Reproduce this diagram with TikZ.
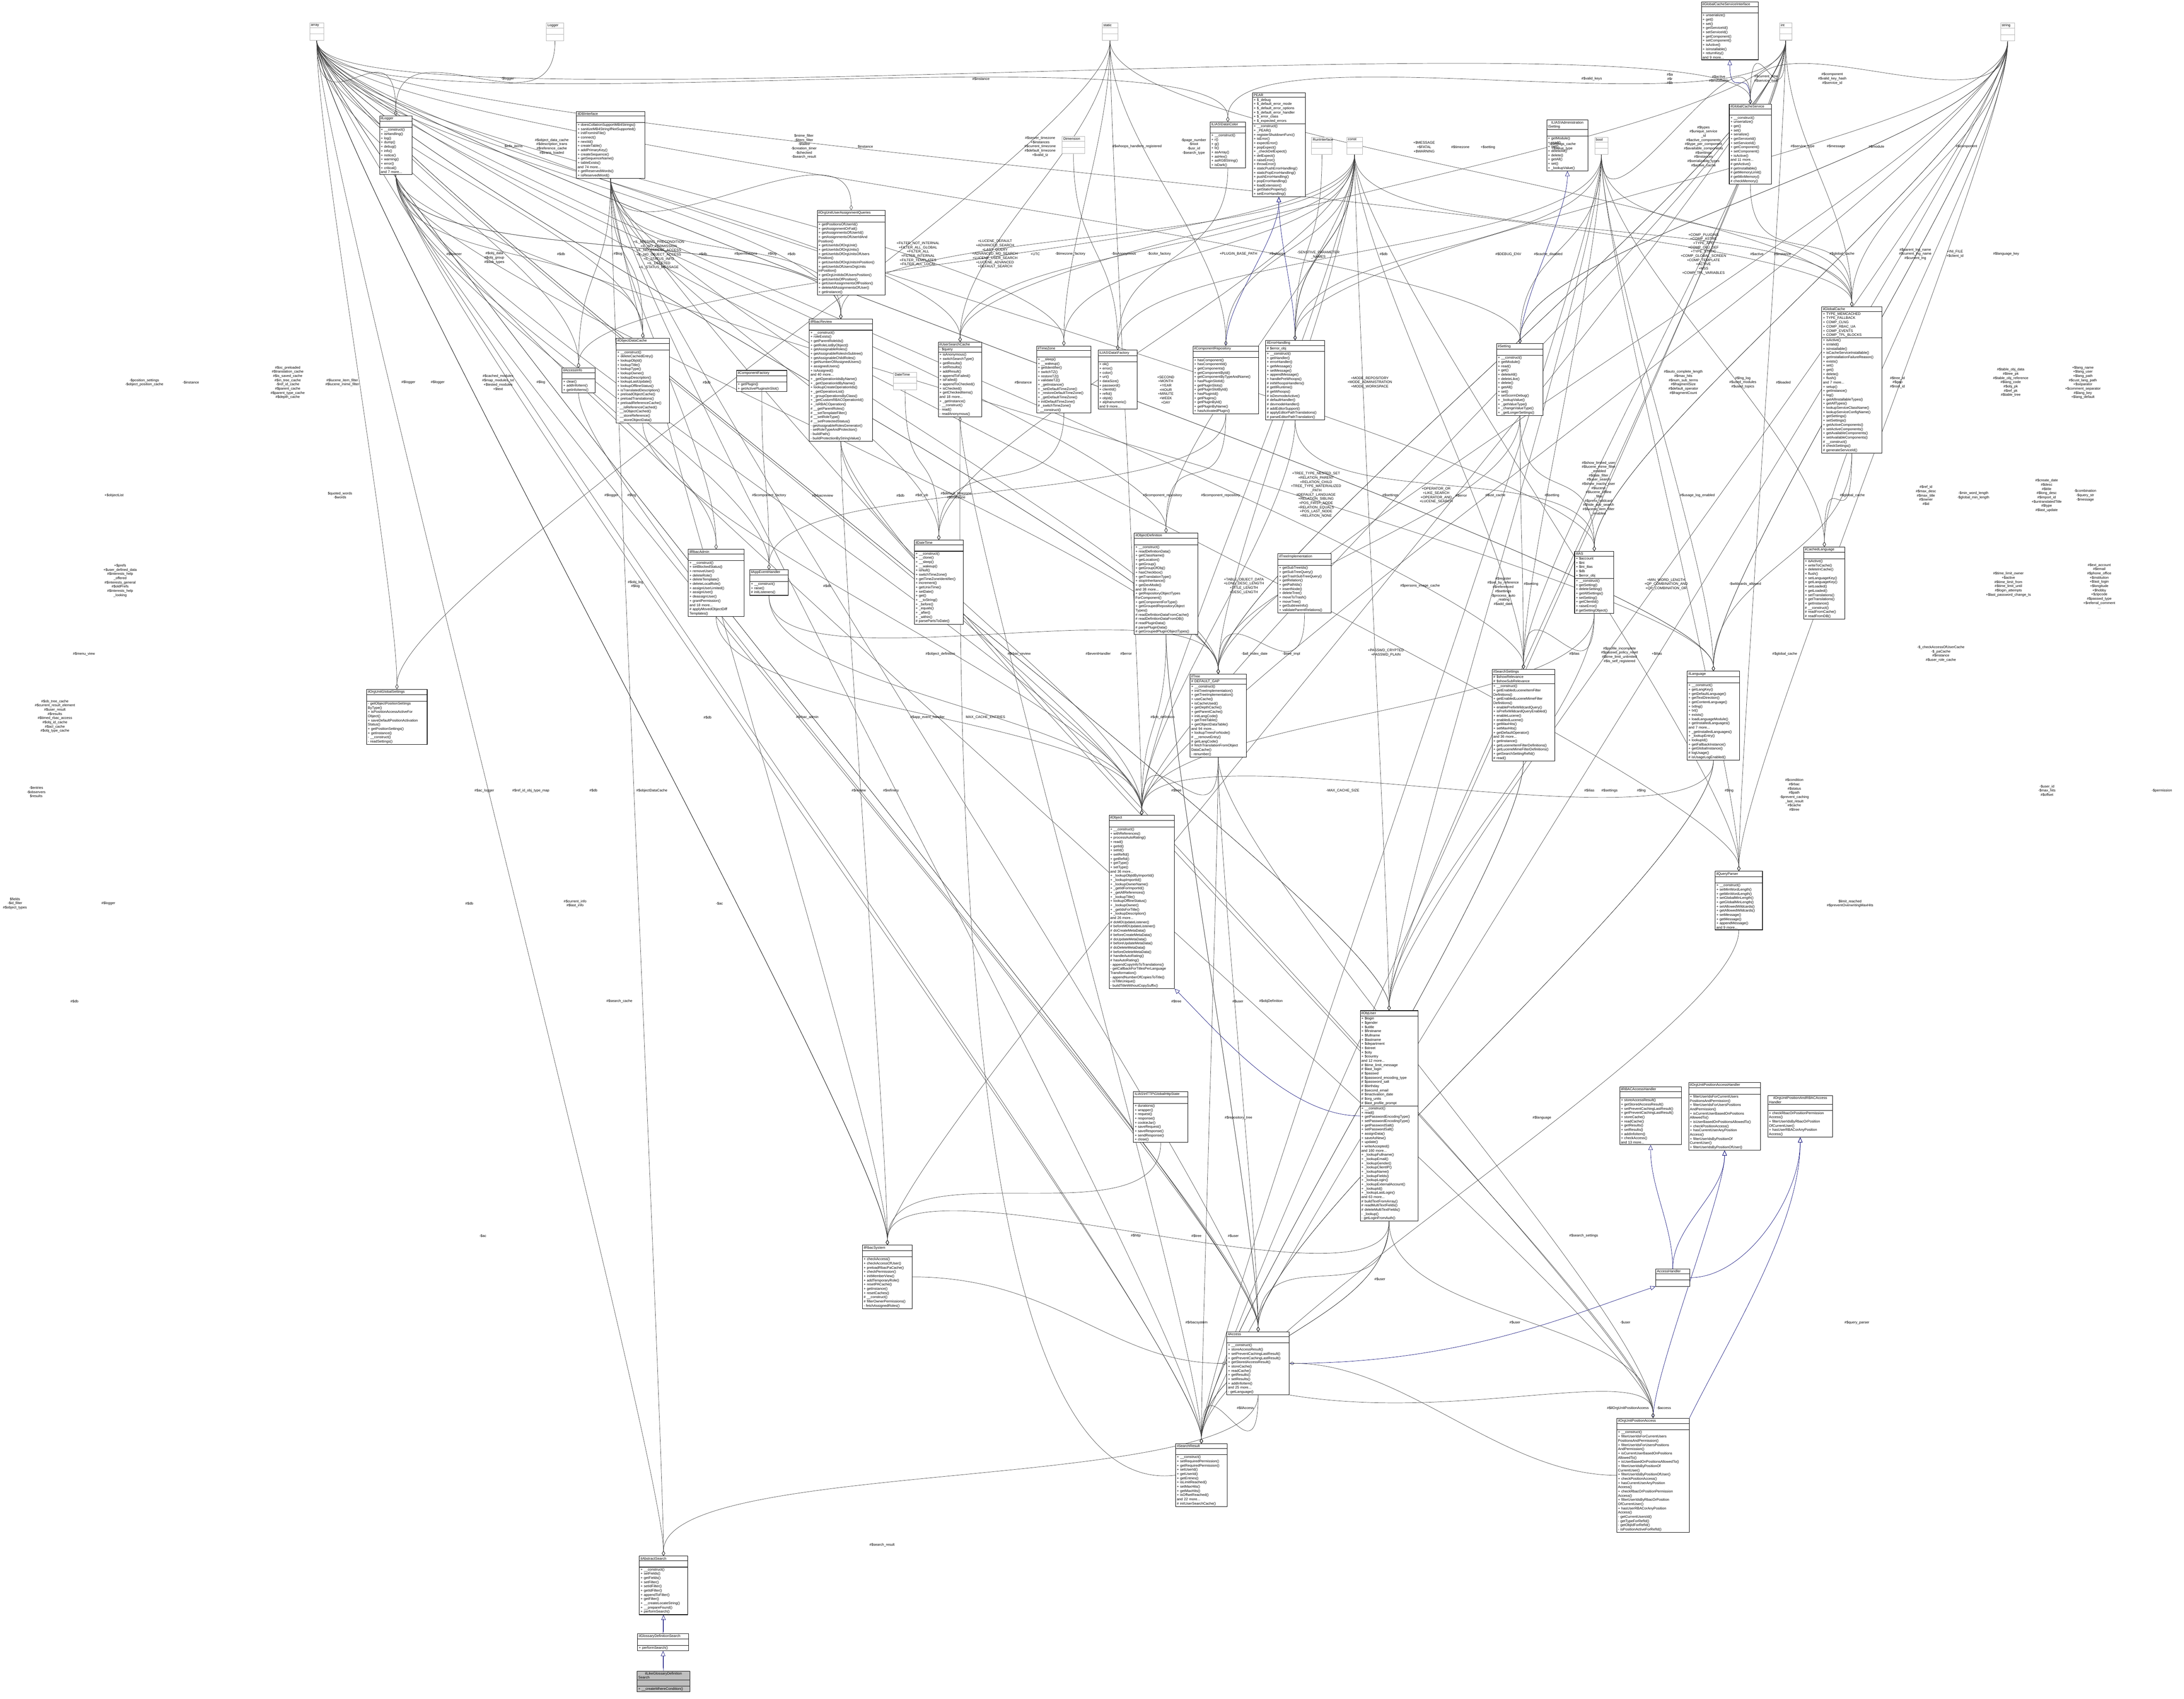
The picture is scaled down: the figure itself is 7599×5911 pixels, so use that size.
\documentclass[tikz,border=0pt]{standalone}
\usepackage{fontspec}
\setmainfont{Liberation Sans}
\usetikzlibrary{shapes.multipart,arrows.meta,backgrounds}
\pgfdeclarelayer{bottom}
\pgfsetlayers{bottom,background,main}
\newcommand\cls[7][]{\node[cls,text width=#5cm,#1] (#2) at (#3,#4) {\centering #6\nodepart{two}\strut\nodepart{three}#7};}
\newcommand\clsa[8][]{\node[cls,text width=#5cm,#1] (#2) at (#3,#4) {\centering #6\nodepart{two}#7\nodepart{three}#8};}
\newcommand\grn[5]{\node[cls,draw=black!30,text width=#4cm] (#1) at (#2,#3) {\centering #5\nodepart{two}\strut\nodepart{three}\strut};}
\newcommand\ag[5]{\begin{pgfonlayer}{background}\draw[agg] (#1.south) .. controls +(0,350) and +(0,-350) .. (#2.north);\end{pgfonlayer} \node[lbl] (#3) at (#4) {#5};}
\newcommand\agn[2]{\begin{pgfonlayer}{background}\draw[agg] (#1.south) .. controls +(0,350) and +(0,-350) .. (#2.north);\end{pgfonlayer}}
\newcommand\ih[2]{\begin{pgfonlayer}{background}\draw[inh] (#1.north) .. controls +(0,-150) and +(0,150) .. (#2.south);\end{pgfonlayer}}
\newcommand\bg[1]{\begin{pgfonlayer}{background}#1\end{pgfonlayer}}
\begin{document}
\begin{tikzpicture}[x=0.01cm,y=-0.01cm,
 cls/.style={rectangle split,rectangle split parts=3,draw=black,line width=0.45pt,anchor=north west,
   font=\fontsize{3.5}{4.18}\selectfont,align=left,inner xsep=1.2pt,inner ysep=0.8pt,fill=white},
 lbl/.style={font=\fontsize{3.5}{4.18}\selectfont,align=center,inner sep=0.4pt},
 agg/.style={draw=black!75,line width=0.3pt,-{Diamond[open,length=5pt,width=3.2pt]}},
 inh/.style={draw=blue!45!black,line width=0.3pt,-{Triangle[open,length=5pt,width=4.4pt]}}]
\useasboundingbox (0,0) rectangle (7599,5911);
\begin{pgfonlayer}{bottom}\fill[white] (0,0) rectangle (7599,5911);\end{pgfonlayer}
% ---------- gray type nodes
\grn{arr}{1077}{79}{0.4}{array}
\grn{logger}{1900}{79}{0.52}{Logger}
\grn{static}{3834}{79}{0.46}{static}
\grn{int}{6191}{79}{0.34}{int}
\grn{str}{6960}{79}{0.41}{string}
\grn{dim}{3695}{474}{0.7}{Dimension}
\grn{runi}{4563}{477}{0.63}{RunInterface}
\grn{const}{4685}{477}{0.46}{const}
\grn{bool}{5548}{477}{0.38}{bool}
\grn{datetime}{3108}{1295}{0.72}{DateTime}
% ---------- classes
\cls{gcsi}{5919}{6}{1.89}{ilGlobalCacheServiceInterface}{+ unserialize()\\+ get()\\+ set()\\+ getServiceId()\\+ setServiceId()\\+ getComponent()\\+ setComponent()\\+ isActive()\\+ isInstallable()\\+ returnKey()\\and 9 more...}
\cls{illogger}{1320}{402}{1.04}{ilLogger}{+ \_\_construct()\\+ isHandling()\\+ log()\\+ dump()\\+ debug()\\+ info()\\+ notice()\\+ warning()\\+ error()\\+ critical()\\and 7 more...}
\cls{db}{2005}{387}{2.29}{ilDBInterface}{+ doesCollationSupportMB4Strings()\\+ sanitizeMB4StringIfNotSupported()\\+ initFromIniFile()\\+ connect()\\+ nextId()\\+ createTable()\\+ addPrimaryKey()\\+ createSequence()\\+ getSequenceName()\\+ tableExists()\\and 74 more...\\+ getReservedWords()\\+ isReservedWord()}
\cls{color}{4210}{424}{1.14}{ILIAS\textbackslash Data\textbackslash Color}{+ \_\_construct()\\+ r()\\+ g()\\+ b()\\+ asArray()\\+ asHex()\\+ asRGBString()\\+ isDark()}
\clsa{pear}{4357}{322}{1.75}{PEAR}{+ \$\_debug\\+ \$\_default\_error\_mode\\+ \$\_default\_error\_options\\+ \$\_default\_error\_handler\\+ \$\_error\_class\\+ \$\_expected\_errors}{+ \_\_construct()\\+ \_PEAR()\\+ registerShutdownFunc()\\+ isError()\\+ expectError()\\+ popExpect()\\+ \_checkDelExpect()\\+ delExpect()\\+ raiseError()\\+ throwError()\\+ staticPushErrorHandling()\\+ staticPopErrorHandling()\\+ pushErrorHandling()\\+ popErrorHandling()\\+ loadExtension()\\+ getStaticProperty()\\+ setErrorHandling()}
\cls{admset}{5381}{417}{1.35}{ILIAS\textbackslash Administration\\\textbackslash Setting}{+ getModule()\\+ read()\\+ get()\\+ deleteAll()\\+ delete()\\+ getAll()\\+ set()\\+ \_lookupValue()}
\cls{gcs}{6016}{362}{1.38}{ilGlobalCacheService}{+ \_\_construct()\\+ unserialize()\\+ get()\\+ set()\\+ serialize()\\+ getServiceId()\\+ setServiceId()\\+ getComponent()\\+ setComponent()\\+ isActive()\\and 11 more...\\\# getActive()\\\# getInstallable()\\\# getMemoryLimit()\\\# getMinMemory()\\\# checkMemory()}
\cls{ouaq}{2843}{731}{2.27}{ilOrgUnitUserAssignmentQueries}{+ getPositionsOfUserId()\\+ getAssignmentOrFail()\\+ getAssignmentsOfUserId()\\+ getAssignmentsOfUserIdAnd\\Position()\\+ getUserIdsOfOrgUnit()\\+ getUserIdsOfOrgUnits()\\+ getUserIdsOfOrgUnitsOfUsers\\Position()\\+ getUserIdsOfOrgUnitsInPosition()\\+ getUserIdsOfUsersOrgUnits\\InPosition()\\+ getOrgUnitIdsOfUsersPosition()\\+ getUserIdsOfPosition()\\+ getUserAssignmentsOfPosition()\\+ deleteAllAssignmentsOfUser()\\+ getInstance()}
\cls{accinfo}{1955}{1280}{1.06}{ilAccessInfo}{+ clear()\\+ addInfoItem()\\+ getInfoItems()}
\cls{odc}{2143}{1176}{1.77}{ilObjectDataCache}{+ \_\_construct()\\+ deleteCachedEntry()\\+ lookupObjId()\\+ lookupTitle()\\+ lookupType()\\+ lookupOwner()\\+ lookupDescription()\\+ lookupLastUpdate()\\+ lookupOfflineStatus()\\+ isTranslatedDescription()\\+ preloadObjectCache()\\+ preloadTranslations()\\+ preloadReferenceCache()\\- \_\_isReferenceCached()\\- \_\_isObjectCached()\\- \_\_storeReference()\\- \_\_storeObjectData()}
\cls{rbrev}{2815}{1110}{2.11}{ilRbacReview}{+ \_\_construct()\\+ roleExists()\\+ getParentRoleIds()\\+ getRoleListByObject()\\+ getAssignableRoles()\\+ getAssignableRolesInSubtree()\\+ getAssignableChildRoles()\\+ getNumberOfAssignedUsers()\\+ assignedUsers()\\+ isAssigned()\\and 40 more...\\+ \_getOperationIdsByName()\\+ \_getOperationIdByName()\\+ lookupCreateOperationIds()\\+ \_getOperationList()\\+ \_groupOperationsByClass()\\+ \_getCustomRBACOperationId()\\+ \_isRBACOperation()\\\# \_\_getParentRoles()\\\# \_\_setTemplateFilter()\\\# \_\_setRoleType()\\\# \_\_setProtectedStatus()\\- getAssignableRolesGenerator()\\- setRoleTypeAndProtection()\\- buildPath()\\- buildProtectionByStringValue()}
\cls{compfac}{2562}{1288}{1.67}{ilComponentFactory}{+ getPlugin()\\+ getActivePluginsInSlot()}
\clsa{usc}{3264}{1190}{1.43}{ilUserSearchCache}{- \$query}{+ isAnonymous()\\+ switchSearchType()\\+ getResults()\\+ setResults()\\+ addResult()\\+ appendToFailed()\\+ isFailed()\\+ appendToChecked()\\+ isChecked()\\+ getCheckedItems()\\and 18 more...\\+ \_getInstance()\\- \_\_construct()\\- read()\\- readAnonymous()}
\cls{tz}{3606}{1203}{1.81}{ilTimeZone}{+ \_\_sleep()\\+ \_\_wakeup()\\+ getIdentifier()\\+ switchTZ()\\+ restoreTZ()\\+ validateTZ()\\+ \_getInstance()\\+ \_setDefaultTimeZone()\\+ \_restoreDefaultTimeZone()\\+ \_getDefaultTimeZone()\\+ initDefaultTimeZone()\\\# \_switchTimeZone()\\- \_\_construct()}
\cls{datafac}{3820}{1218}{1.28}{ILIAS\textbackslash Data\textbackslash Factory}{+ ok()\\+ error()\\+ color()\\+ uri()\\+ dataSize()\\+ password()\\+ clientId()\\+ refId()\\+ objId()\\+ alphanumeric()\\and 9 more...}
\cls{comprepo}{4150}{1203}{2.2}{ilComponentRepository}{+ hasComponent()\\+ hasComponentId()\\+ getComponents()\\+ getComponentById()\\+ getComponentByTypeAndName()\\+ hasPluginSlotId()\\+ getPluginSlots()\\+ getPluginSlotById()\\+ hasPluginId()\\+ getPlugins()\\+ getPluginById()\\+ getPluginByName()\\+ hasActivatedPlugin()}
\clsa{errh}{4403}{1184}{1.96}{ilErrorHandling}{\# \$error\_obj}{+ \_\_construct()\\+ getHandler()\\+ errorHandler()\\+ getMessage()\\+ setMessage()\\+ appendMessage()\\+ handlePreWhoops()\\\# initWhoopsHandlers()\\\# getIlRuntime()\\\# getWhoops()\\\# isDevmodeActive()\\\# defaultHandler()\\\# devmodeHandler()\\\# addEditorSupport()\\\# applyEditorPathTranslations()\\\# parseEditorPathTranslation()}
\cls{setting}{5207}{1195}{1.53}{ilSetting}{+ \_\_construct()\\+ getModule()\\+ read()\\+ get()\\+ deleteAll()\\+ deleteLike()\\+ delete()\\+ getAll()\\+ set()\\+ setScormDebug()\\+ \_lookupValue()\\+ \_getValueType()\\+ \_changeValueType()\\+ \_getLongerSettings()}
\clsa{gcache}{6338}{1067}{2.0}{ilGlobalCache}{+ TYPE\_MEMCACHED\\+ TYPE\_FALLBACK\\+ COMP\_CLNG\\+ COMP\_RBAC\_UA\\+ COMP\_EVENTS\\+ COMP\_TPL\_BLOCKS}{+ isActive()\\+ isValid()\\+ isInstallable()\\+ isCacheServiceInstallable()\\+ getInstallationFailureReason()\\+ exists()\\+ set()\\+ get()\\+ delete()\\+ flush()\\and 7 more...\\+ setup()\\+ getInstance()\\+ log()\\+ getAllInstallableTypes()\\+ getAllTypes()\\+ lookupServiceClassName()\\+ lookupServiceConfigName()\\+ getSettings()\\+ setSettings()\\+ getActiveComponents()\\+ setActiveComponents()\\+ getAvailableComponents()\\+ setAvailableComponents()\\\# \_\_construct()\\\# checkSettings()\\\# generateServiceId()}
\cls{rbadm}{2394}{1911}{1.85}{ilRbacAdmin}{+ \_\_construct()\\+ setBlockedStatus()\\+ removeUser()\\+ deleteRole()\\+ deleteTemplate()\\+ deleteLocalRole()\\+ assignUserLimited()\\+ assignUser()\\+ deassignUser()\\+ grantPermission()\\and 18 more...\\\# applyMovedObjectDiff\\Templates()}
\cls{appev}{2608}{1982}{1.25}{ilAppEventHandler}{+ \_\_construct()\\+ raise()\\\# initListeners()}
\cls{ildt}{3181}{1879}{1.61}{ilDateTime}{+ \_\_construct()\\+ \_\_clone()\\+ \_\_sleep()\\+ \_\_wakeup()\\+ isNull()\\+ switchTimeZone()\\+ getTimeZoneIdentifier()\\+ increment()\\+ getUnixTime()\\+ setDate()\\+ get()\\+ \_\_toString()\\+ \_before()\\+ \_equals()\\+ \_after()\\+ \_within()\\\# parsePartsToDate()}
\cls{objdef}{3946}{1854}{2.12}{ilObjectDefinition}{+ \_\_construct()\\+ readDefinitionData()\\+ getClassName()\\+ getLocation()\\+ getGroup()\\+ getGroupOfObj()\\+ hasCheckbox()\\+ getTranslationType()\\+ stopInheritance()\\+ getDevMode()\\and 38 more...\\+ getRepositoryObjectTypes\\ForComponent()\\+ getComponentForType()\\+ getGroupedRepositoryObject\\Types()\\\# readDefinitionDataFromCache()\\\# readDefinitionDataFromDB()\\\# readPluginData()\\\# parsePluginData()\\\# getGroupedPluginObjectTypes()}
\cls{treeimpl}{4446}{1926}{1.76}{ilTreeImplementation}{+ getSubTreeIds()\\+ getSubTreeQuery()\\+ getTrashSubTreeQuery()\\+ getRelation()\\+ getPathIds()\\+ insertNode()\\+ deleteTree()\\+ moveToTrash()\\+ moveTree()\\+ getSubtreeInfo()\\+ validateParentRelations()}
\clsa{ias}{5478}{1918}{1.28}{ilIAS}{+ \$account\\+ \$ini\\+ \$ini\_ilias\\+ \$db\\+ \$error\_obj}{+ \_\_construct()\\+ getSetting()\\+ deleteSetting()\\+ getAllSettings()\\+ setSetting()\\+ getClientId()\\+ raiseError()\\\# getSettingObject()}
\cls{clng}{6275}{1903}{1.35}{ilCachedLanguage}{+ isActive()\\+ writeToCache()\\+ deleteInCache()\\+ flush()\\+ setLanguageKey()\\+ getLanguageKey()\\+ setLoaded()\\+ getLoaded()\\+ setTranslations()\\+ getTranslations()\\+ getInstance()\\\# \_\_construct()\\\# readFromCache()\\\# readFromDB()}
\cls{ougs}{1275}{2398}{2.02}{ilOrgUnitGlobalSettings}{- getObjectPositionSettings\\ByType()\\+ isPositionAccessActiveFor\\Object()\\+ saveDefaultPositionActivation\\Status()\\+ getPositionSettings()\\+ getInstance()\\- \_\_construct()\\- readSettings()}
\clsa{tree}{4140}{2345}{1.87}{ilTree}{\# DEFAULT\_GAP}{+ \_\_construct()\\+ initTreeImplementation()\\+ getTreeImplementation()\\+ useCache()\\+ isCacheUsed()\\+ getDepthCache()\\+ getParentCache()\\+ initLangCode()\\+ getTreeTable()\\+ getObjectDataTable()\\and 94 more...\\+ lookupTreesForNode()\\\# \_\_removeEntry()\\\# getLangCode()\\\# fetchTranslationFromObject\\DataCache()\\- renumber()}
\clsa{sset}{5191}{2328}{2.09}{ilSearchSettings}{\# \$showRelevance\\\# \$showSubRelevance}{+ \_\_construct()\\+ getEnabledLuceneItemFilter\\Definitions()\\+ getEnabledLuceneMimeFilter\\Definitions()\\+ enablePrefixWildcardQuery()\\+ isPrefixWildcardQueryEnabled()\\+ enableLucene()\\+ enabledLucene()\\+ getMaxHits()\\+ setMaxHits()\\+ getDefaultOperator()\\and 36 more...\\+ getInstance()\\+ getLuceneItemFilterDefinitions()\\+ getLuceneMimeFilterDefinitions()\\+ getSearchSettingRefId()\\\# read()}
\cls{lng}{5870}{2335}{1.73}{ilLanguage}{+ \_\_construct()\\+ getLangKey()\\+ getDefaultLanguage()\\+ getTextDirection()\\+ getContentLanguage()\\+ txtlng()\\+ txt()\\+ exists()\\+ loadLanguageModule()\\+ getInstalledLanguages()\\and 7 more...\\+ \_getInstalledLanguages()\\+ \_lookupEntry()\\+ lookupId()\\+ getFallbackInstance()\\+ getGlobalInstance()\\\# logUsage()\\\# isUsageLogEnabled()}
\cls{obj}{3858}{2836}{2.19}{ilObject}{+ \_\_construct()\\+ withReferences()\\+ processAutoRating()\\+ read()\\+ getId()\\+ setId()\\+ setRefId()\\+ getRefId()\\+ getType()\\+ setType()\\and 36 more...\\+ \_lookupObjIdByImportId()\\+ \_lookupImportId()\\+ \_lookupOwnerName()\\+ \_getIdForImportId()\\+ \_getAllReferences()\\+ \_lookupTitle()\\+ lookupOfflineStatus()\\+ \_lookupOwner()\\+ \_getIdsForTitle()\\+ \_lookupDescription()\\and 26 more...\\\# doMDUpdateListener()\\\# beforeMDUpdateListener()\\\# doCreateMetaData()\\\# beforeCreateMetaData()\\\# doUpdateMetaData()\\\# beforeUpdateMetaData()\\\# doDeleteMetaData()\\\# beforeDeleteMetaData()\\\# handleAutoRating()\\\# hasAutoRating()\\- appendCopyInfoToTranslations()\\- getCallbackForTitlesPerLanguage\\Transformation()\\- appendNumberOfCopiesToTitle()\\- isTitleUnique()\\- buildTitleWithoutCopySuffix()}
\cls{qp}{5967}{3031}{1.56}{ilQueryParser}{+ \_\_construct()\\+ setMinWordLength()\\+ getMinWordLength()\\+ setGlobalMinLength()\\+ getGlobalMinLength()\\+ setAllowedWildcards()\\+ getAllowedWildcards()\\+ setMessage()\\+ getMessage()\\+ appendMessage()\\and 9 more...}
\clsa{user}{4732}{3516}{1.92}{ilObjUser}{+ \$login\\+ \$gender\\+ \$utitle\\+ \$firstname\\+ \$fullname\\+ \$lastname\\+ \$department\\+ \$street\\+ \$city\\+ \$country\\and 12 more...\\\# \$time\_limit\_message\\\# \$last\_login\\\# \$passwd\\\# \$password\_encoding\_type\\\# \$password\_salt\\\# \$birthday\\\# \$second\_email\\\# \$inactivation\_date\\\# \$org\_units\\\# \$last\_profile\_prompt}{+ \_\_construct()\\+ read()\\+ getPasswordEncodingType()\\+ setPasswordEncodingType()\\+ getPasswordSalt()\\+ setPasswordSalt()\\+ assignData()\\+ saveAsNew()\\+ update()\\+ writeAccepted()\\and 160 more...\\+ \_lookupFullname()\\+ \_lookupEmail()\\+ \_lookupGender()\\+ \_lookupClientIP()\\+ \_lookupName()\\+ \_lookupFields()\\+ \_lookupLogin()\\+ \_lookupExternalAccount()\\+ \_lookupId()\\+ \_lookupLastLogin()\\and 63 more...\\\# buildTextFromArray()\\\# readMultiTextFields()\\\# deleteMultiTextFields()\\- \_lookup()\\- getLoginFromAuth()}
\cls{http}{3943}{3798}{1.81}{ILIAS\textbackslash HTTP\textbackslash GlobalHttpState}{+ durations()\\+ wrapper()\\+ request()\\+ response()\\+ cookieJar()\\+ saveRequest()\\+ saveResponse()\\+ sendResponse()\\+ close()}
\cls{rbacah}{5635}{3781}{2.06}{ilRBACAccessHandler}{+ storeAccessResult()\\+ getStoredAccessResult()\\+ setPreventCachingLastResult()\\+ getPreventCachingLastResult()\\+ storeCache()\\+ readCache()\\+ getResults()\\+ setResults()\\+ addInfoItem()\\+ checkAccess()\\and 13 more...}
\cls{oupah}{5875}{3766}{2.41}{ilOrgUnitPositionAccessHandler}{+ filterUserIdsForCurrentUsers\\PositionsAndPermission()\\+ filterUserIdsForUsersPositions\\AndPermission()\\+ isCurrentUserBasedOnPositions\\AllowedTo()\\+ isUserBasedOnPositionsAllowedTo()\\+ checkPositionAccess()\\+ hasCurrentUserAnyPosition\\Access()\\+ filterUserIdsByPositionOf\\CurrentUser()\\+ filterUserIdsByPositionOfUser()}
\cls{ouprah}{6150}{3811}{2.17}{ilOrgUnitPositionAndRBACAccess\\Handler}{+ checkRbacOrPositionPermission\\Access()\\+ filterUserIdsByRbacOrPosition\\OfCurrentUser()\\+ hasUserRBACorAnyPosition\\Access()}
\cls{rbsys}{3000}{4332}{1.65}{ilRbacSystem}{+ checkAccess()\\+ checkAccessOfUser()\\+ preloadRbacPaCache()\\+ checkPermission()\\+ initMemberView()\\+ addTemporaryRole()\\+ resetPACache()\\+ getInstance()\\+ resetCaches()\\\# \_\_construct()\\\# filterOwnerPermissions()\\- fetchAssignedRoles()}
\cls{ah}{5760}{4415}{1.1}{AccessHandler}{\strut}
\cls{access}{4268}{4634}{2.09}{ilAccess}{+ \_\_construct()\\+ storeAccessResult()\\+ setPreventCachingLastResult()\\+ getPreventCachingLastResult()\\+ getStoredAccessResult()\\+ storeCache()\\+ readCache()\\+ getResults()\\+ setResults()\\+ addInfoItem()\\and 25 more...\\- getLanguage()}
\cls{oupa}{5625}{4934}{2.43}{ilOrgUnitPositionAccess}{+ \_\_construct()\\+ filterUserIdsForCurrentUsers\\PositionsAndPermission()\\+ filterUserIdsForUsersPositions\\AndPermission()\\+ isCurrentUserBasedOnPositions\\AllowedTo()\\+ isUserBasedOnPositionsAllowedTo()\\+ filterUserIdsByPositionOf\\CurrentUser()\\+ filterUserIdsByPositionOfUser()\\+ checkPositionAccess()\\+ hasCurrentUserAnyPosition\\Access()\\+ checkRbacOrPositionPermission\\Access()\\+ filterUserIdsByRbacOrPosition\\OfCurrentUser()\\+ hasUserRBACorAnyPosition\\Access()\\- getCurrentUsersId()\\- getTypeForRefId()\\- getObjIdForRefId()\\- isPositionActiveForRefId()}
\cls{sres}{4090}{5023}{1.7}{ilSearchResult}{+ \_\_construct()\\+ setRequiredPermission()\\+ getRequiredPermission()\\+ setUserId()\\+ getUserId()\\+ getEntries()\\+ isLimitReached()\\+ setMaxHits()\\+ getMaxHits()\\+ isOffsetReached()\\and 22 more...\\\# initUserSearchCache()}
\cls{abs}{2224}{5414}{1.59}{ilAbstractSearch}{+ \_\_construct()\\+ setFields()\\+ getFields()\\+ setFilter()\\+ setIdFilter()\\+ getIdFilter()\\+ appendToFilter()\\+ getFilter()\\+ \_\_createLocateString()\\+ \_\_prepareFound()\\+ performSearch()}
\cls{gds}{2218}{5684}{1.68}{ilGlossaryDefinitionSearch}{+ performSearch()}
\cls[fill=black!25]{lgds}{2216}{5814}{1.75}{ilLikeGlossaryDefinition\\Search}{+ \_\_createWhereCondition()}
% ---------- inheritance
\ih{errh}{pear}
\ih{comprepo}{pear}
\ih{setting}{admset}
\ih{gcs}{gcsi}
\bg{\draw[inh] (user.west) .. controls +(-250,0) and +(150,150) .. (obj.south east);}
\ih{ah}{rbacah}
\ih{ah}{oupah}
\bg{\draw[inh] (ah.east) .. controls +(200,0) and +(0,200) .. (ouprah.south);}
\ih{oupa}{oupah}
\bg{\draw[inh] (oupa.north east) .. controls +(150,-300) and +(0,300) .. (ouprah.south);}
\bg{\draw[inh] (access.east) .. controls +(600,0) and +(-300,100) .. (ah.south west);}
\ih{gds}{abs}
\ih{lgds}{gds}
% ---------- aggregations
\ag{logger}{illogger}{l1}{1766,274}{-\$logger}
\ag{arr}{ougs}{l2}{502,1331}{-\$position\_settings\\-\$object\_position\_cache}
\ag{static}{ougs}{l3}{664,1331}{-\$instance}
\ag{arr}{odc}{l4}{1920,510}{\#\$object\_data\_cache\\\#\$description\_trans\\\#\$reference\_cache\\\#\$trans\_loaded}
\ag{arr}{accinfo}{l5}{1787,510}{\$info\_items}
\ag{db}{odc}{l6}{1952,884}{\#\$db}
\ag{illogger}{odc}{l7}{2150,884}{\#\$log}
\ag{const}{accinfo}{l8}{2292,887}{+IL\_MISSING\_PRECONDITION\\+IL\_NO\_PERMISSION\\+IL\_NO\_PARENT\_ACCESS\\+IL\_NO\_OBJECT\_ACCESS\\+IL\_STATUS\_INFO\\+IL\_DELETED\\+IL\_STATUS\_MESSAGE}
\ag{db}{ouaq}{l9}{2446,884}{\#\$db}
\ag{illogger}{appev}{l10}{1580,884}{\#\$listener}
\ag{arr}{objdef}{l11}{1720,897}{\#\$obj\_data\\\#\$obj\_group\\\#\$sub\_types}
\ag{arr}{tree}{l12}{1001,1331}{\#\$oc\_preloaded\\\#\$translation\_cache\\\#\$is\_saved\_cache\\\#\$in\_tree\_cache\\-\$ref\_id\_cache\\\#\$parent\_cache\\\#\$parent\_type\_cache\\\#\$depth\_cache}
\ag{arr}{sset}{l13}{1191,1331}{\#\$lucene\_item\_filter\\\#\$lucene\_mime\_filter}
\ag{illogger}{tree}{l14}{1421,1331}{\#\$logger}
\ag{illogger}{oupa}{l15}{1523,1331}{\#\$logger}
\ag{arr}{lng}{l16}{1733,1331}{\#\$cached\_modules\\\#\$map\_modules\_txt\\+\$tested\_modules\\+\$text}
\ag{illogger}{lng}{l17}{1882,1331}{\#\$log}
\ag{db}{rbadm}{l18}{2459,1331}{\#\$db}
\ag{arr}{rbsys}{l19}{397,1724}{+\$objectList}
\ag{arr}{qp}{l20}{1183,1724}{\$quoted\_words\\-\$words}
\ag{illogger}{rbadm}{l21}{2127,1724}{\#\$logger}
\ag{illogger}{rbrev}{l22}{2198,1724}{\#\$log}
\ag{arr}{user}{l23}{418,2020}{+\$prefs\\+\$user\_defined\_data\\\#\$interests\_help\\\_offered\\\#\$interests\_general\\\#\$oldPrefs\\\#\$interests\_help\\\_looking}
\ag{illogger}{obj}{l24}{2211,2033}{\#\$obj\_log\\\#\$log}
\ag{arr}{rbsys}{l25}{292,2275}{\#\$menu\_view}
\ag{arr}{access}{l26}{191,2492}{\#\$ob\_tree\_cache\\\#\$current\_result\_element\\\#\$user\_result\\\#\$results\\\#\$timed\_rbac\_access\\\#\$obj\_id\_cache\\\#\$acl\_cache\\\#\$obj\_type\_cache}
\ag{arr}{sres}{l27}{126,2756}{-\$entries\\-\$observers\\\$results}
\ag{illogger}{access}{l28}{1685,2751}{\#\$ac\_logger}
\ag{arr}{rbsys}{l29}{1847,2751}{\#\$ref\_id\_obj\_type\_map}
\ag{db}{access}{l30}{2065,2751}{\#\$db}
\ag{odc}{obj}{l31}{2268,2751}{\#\$objectDataCache}
\ag{db}{oupa}{l32}{2462,2496}{\#\$db}
\ag{static}{tz}{l33}{3413,274}{\#\$instance}
\ag{arr}{usc}{l34}{2797,510}{\$mime\_filter\\-\$item\_filter\\-\$failed\\-\$creation\_timer\\-\$checked\\-\$search\_result}
\ag{static}{usc}{l35}{3011,510}{\$instance}
\ag{arr}{tz}{l36}{3619,510}{\#\$server\_timezone\\+\$instances\\\#\$current\_timezone\\\#\$default\_timezone\\+\$valid\_tz}
\ag{bool}{errh}{l37}{3956,510}{\#\$whoops\_handlers\_registered}
\ag{int}{usc}{l38}{4153,510}{-\$page\_number\\-\$root\\-\$usr\_id\\-\$search\_type}
\ag{const}{errh}{l39}{4955,512}{+\$MESSAGE\\+\$FATAL\\+\$WARNING}
\ag{db}{rbrev}{l40}{2754,884}{\#\$db}
\ag{illogger}{rbrev}{l41}{2687,884}{\#\$log}
\ag{arr}{rbrev}{l42}{2595,884}{\#\$permissions}
\ag{const}{rbrev}{l43}{3194,884}{+FILTER\_NOT\_INTERNAL\\+FILTER\_ALL\_GLOBAL\\+FILTER\_ALL\\+FILTER\_INTERNAL\\+FILTER\_TEMPLATES\\+FILTER\_ALL\_LOCAL}
\ag{const}{usc}{l44}{3462,884}{+LUCENE\_DEFAULT\\+ADVANCED\_SEARCH\\+LAST\_QUERY\\+ADVANCED\_MD\_SEARCH\\+LUCENE\_USER\_SEARCH\\+LUCENE\_ADVANCED\\+DEFAULT\_SEARCH}
\ag{const}{tz}{l45}{3602,884}{+UTC}
\ag{dim}{datafac}{l46}{3724,884}{-\$timezone\_factory}
\ag{bool}{datafac}{l47}{3910,884}{-\$isAnonymous}
\ag{color}{datafac}{l48}{4033,884}{-\$color\_factory}
\ag{const}{comprepo}{l49}{4309,884}{+PLUGIN\_BASE\_PATH}
\ag{runi}{errh}{l50}{4445,884}{\#\$whoops}
\ag{const}{errh}{l51}{4587,887}{-SENSTIVE\_PARAMETER\\\_NAMES}
\ag{db}{tree}{l52}{4814,884}{\#\$db}
\ag{const}{errh}{l53}{5248,885}{\#\$DEBUG\_ENV}
\ag{bool}{setting}{l54}{5387,885}{\#\$cache\_disabled}
\ag{const}{objdef}{l55}{4766,1331}{+MODE\_REPOSITORY\\+MODE\_ADMINISTRATION\\+MODE\_WORKSPACE}
\ag{const}{ildt}{l56}{4056,1356}{+SECOND\\+MONTH\\+YEAR\\+HOUR\\+MINUTE\\+WEEK\\+DAY}
\ag{static}{comprepo}{l57}{3560,1331}{\#\$instance}
\ag{compfac}{appev}{l58}{2676,1724}{\#\$component\_factory}
\ag{rbrev}{rbsys}{l59}{2862,1724}{\#\$rbacreview}
\ag{db}{ildt}{l60}{3133,1724}{\#\$db}
\ag{datetime}{ildt}{l61}{3207,1724}{\#\$dt\_ob}
\ag{tz}{ildt}{l62}{3327,1724}{\#\$default\_timezone\\\#\$timezone}
\ag{comprepo}{appev}{l63}{4045,1724}{\#\$component\_repository}
\ag{comprepo}{objdef}{l64}{4247,1724}{\#\$component\_repository}
\ag{const}{tree}{l65}{4579,1722}{+TREE\_TYPE\_NESTED\_SET\\+RELATION\_PARENT\\+RELATION\_CHILD\\+TREE\_TYPE\_MATERIALIZED\\\_PATH\\\#DEFAULT\_LANGUAGE\\+RELATION\_SIBLING\\+POS\_FIRST\_NODE\\+RELATION\_EQUALS\\+POS\_LAST\_NODE\\+RELATION\_NONE}
\ag{setting}{tree}{l66}{4838,1724}{\#\$settings}
\ag{const}{sset}{l67}{4997,1724}{+OPERATOR\_OR\\+LIKE\_SEARCH\\+OPERATOR\_AND\\+LUCENE\_SEARCH}
\ag{db}{rbsys}{l68}{2878,2039}{\#\$db}
\ag{const}{obj}{l69}{4328,2039}{+TABLE\_OBJECT\_DATA\\+LONG\_DESC\_LENGTH\\+TITLE\_LENGTH\\+DESC\_LENGTH}
\ag{arr}{user}{l70}{4941,2039}{\#\$persons\_image\_cache}
\ag{objdef}{obj}{l71}{3272,2275}{\#\$object\_definition}
\ag{rbrev}{obj}{l72}{3546,2275}{\#\$rbac\_review}
\ag{appev}{tree}{l73}{3821,2275}{\#\$eventHandler}
\ag{errh}{obj}{l74}{3918,2275}{\#\$error}
\ag{arr}{tree}{l75}{4365,2275}{-\$all\_index\_date}
\ag{treeimpl}{tree}{l76}{4493,2275}{-\$tree\_impl}
\ag{const}{user}{l77}{4822,2271}{+PASSWD\_CRYPTED\\+PASSWD\_PLAIN}
\ag{rbadm}{obj}{l78}{2809,2496}{\#\$rbac\_admin}
\ag{appev}{obj}{l79}{3227,2496}{\#\$app\_event\_handler}
\ag{int}{rbsys}{l80}{3429,2496}{MAX\_CACHE\_ENTRIES}
\ag{objdef}{access}{l81}{4045,2496}{\#\$ob\_definition}
\ag{rbrev}{oupa}{l82}{2988,2751}{\#\$review}
\ag{static}{obj}{l83}{3100,2751}{\#\$refinery}
\ag{tree}{obj}{l84}{4093,2751}{\#\$tree}
\ag{int}{tree}{l85}{4672,2751}{-MAX\_CACHE\_SIZE}
\ag{arr}{gcs}{l86}{5538,274}{\#\$valid\_keys}
\ag{int}{color}{l87}{5810,274}{\#\$a\\\#\$r\\\#\$b}
\ag{bool}{gcs}{l88}{5980,274}{\#\$active\\\#\$installable}
\ag{int}{gcs}{l89}{6145,274}{\#\$current\_time\\\#\$service\_type}
\ag{str}{gcs}{l90}{6375,274}{\#\$component\\\#\$valid\_key\_hash\\\#\$service\_id}
\ag{str}{ias}{l91}{5081,512}{\#\$timezone}
\ag{str}{setting}{l92}{5177,512}{+\$setting}
\ag{arr}{setting}{l93}{5436,510}{-\$settings\_cache\\-\$value\_type}
\ag{arr}{gcache}{l94}{5927,510}{\#\$types\\\#\$unique\_service\\\_id\\\#\$active\_components\\\#\$type\_per\_component\\\#\$available\_components\\\#\$settings\\\#\$instances\\\#\$serializable\_types\\\#\$active\_cache}
\ag{int}{gcache}{l95}{6272,510}{\#\$service\_type}
\ag{str}{errh}{l96}{6388,510}{\#\$message}
\ag{str}{setting}{l97}{6529,510}{\#\$module}
\ag{str}{gcache}{l98}{6842,510}{\#\$component}
\ag{const}{gcache}{l99}{5927,884}{+COMP\_PLUGINS\\+COMP\_ASTRE\\+TYPE\_APC\\+COMP\_OBJ\_DEF\\+TYPE\_STATIC\\+COMP\_GLOBAL\_SCREEN\\+COMP\_TEMPLATE\\+ACTIVE\\+MSS\\+COMP\_TPL\_VARIABLES}
\ag{bool}{gcache}{l100}{6113,884}{\#\$active}
\ag{static}{gcache}{l101}{6202,884}{\#\$instance}
\ag{gcs}{gcache}{l102}{6409,884}{\#\$global\_cache}
\ag{str}{lng}{l103}{6664,884}{\#\$parent\_lng\_name\\\#\$current\_lng\_name\\\#\$current\_lng}
\ag{str}{ias}{l104}{6802,884}{+INI\_FILE\\+\$client\_id}
\ag{str}{clng}{l105}{6980,884}{\#\$language\_key}
\ag{int}{sset}{l106}{5857,1331}{\#\$auto\_complete\_length\\\#\$max\_hits\\\#\$num\_sub\_terms\\\#\$fragmentSize\\\#\$default\_operator\\\#\$fragmentCount}
\ag{arr}{lng}{l107}{6064,1331}{\#\$lng\_log\\\#\$used\_modules\\\#\$used\_topics}
\ag{bool}{clng}{l108}{6205,1331}{\#\$loaded}
\ag{int}{tree}{l109}{6602,1331}{\#\$tree\_id\\\#\$gap\\\#\$root\_id}
\ag{str}{tree}{l110}{6996,1331}{\#\$table\_obj\_data\\\#\$tree\_pk\\\#\$table\_obj\_reference\\\#\$lang\_code\\\#\$obj\_pk\\\#\$ref\_pk\\\#\$table\_tree}
\ag{str}{lng}{l111}{7247,1331}{+\$lang\_name\\+\$lang\_user\\+\$lang\_path\\\#\$cust\_lang\_path\\+\$separator\\+\$comment\_separator\\\#\$lang\_key\\+\$lang\_default}
\ag{errh}{ias}{l112}{5084,1724}{\#\$error}
\ag{arr}{ias}{l113}{5203,1724}{\#\$ust\_cache}
\ag{setting}{ias}{l114}{5400,1724}{\#\$setting}
\ag{bool}{sset}{l115}{5562,1699}{\#\$show\_limited\_user\\\#\$lucene\_mime\_filter\\\_enabled\\\#\$date\_filter\\\#\$user\_search\\\#\$show\_inactiv\_user\\\#\$lucene\\\#\$lucene\_offline\\\_filter\\\#\$prefix\_wildcard\\\#\$hide\_adv\_search\\\#\$lucene\_item\_filter\\\_enabled}
\ag{bool}{lng}{l116}{5906,1724}{\#\$usage\_log\_enabled}
\ag{gcache}{clng}{l117}{6445,1724}{\#\$global\_cache}
\ag{int}{obj}{l118}{6701,1724}{\#\$ref\_id\\\#\$max\_desc\\\#\$max\_title\\\#\$owner\\\#\$id}
\ag{int}{qp}{l119}{6866,1724}{-\$min\_word\_length\\-\$global\_min\_length}
\ag{str}{obj}{l120}{7121,1724}{\#\$create\_date\\\#\$desc\\\#\$title\\\#\$long\_desc\\\#\$import\_id\\+\$untranslatedTitle\\\#\$type\\\#\$last\_update}
\ag{str}{qp}{l121}{7255,1724}{-\$combination\\-\$query\_str\\-\$message}
\ag{arr}{obj}{l122}{5230,2058}{\#\$register\\\#\$set\_by\_reference\\\#\$referenced\\\#\$settings\\-\$process\_auto\\\_reating\\\#\$add\_date}
\ag{setting}{sset}{l123}{5327,2033}{\#\$setting}
\ag{const}{qp}{l124}{5797,2033}{+MIN\_WORD\_LENGTH\\+QP\_COMBINATION\_AND\\+QP\_COMBINATION\_OR}
\ag{bool}{qp}{l125}{6072,2033}{-\$wildcards\_allowed}
\ag{int}{user}{l126}{6988,2033}{\#\$time\_limit\_owner\\+\$active\\\#\$time\_limit\_from\\\#\$time\_limit\_until\\\#\$login\_attempts\\+\$last\_password\_change\_ts}
\ag{str}{user}{l127}{7304,2039}{\#\$ext\_account\\\#\$email\\\#\$phone\_office\\+\$institution\\+\$last\_login\\+\$longitude\\+\$hobby\\+\$zipcode\\\#\$passwd\_type\\+\$referral\_comment\\...}
\ag{bool}{user}{l128}{5635,2279}{\#\$profile\_incomplete\\\#\$passwd\_policy\_reset\\\#\$time\_limit\_unlimited\\\#\$is\_self\_registered}
\ag{ias}{sset}{l129}{5478,2275}{\#\$ilias}
\ag{ias}{obj}{l130}{5765,2275}{+\$ilias}
\ag{gcache}{lng}{l131}{6210,2275}{\#\$global\_cache}
\ag{arr}{rbsys}{l132}{6753,2275}{-\$\_checkAccessOfUserCache\\-\$\_paCache\\\#\$instance\\\#\$user\_role\_cache}
\ag{ias}{user}{l133}{5530,2751}{\#\$ilias}
\ag{sset}{sres}{l134}{5600,2751}{\#\$settings}
\ag{lng}{obj}{l135}{5711,2751}{\#\$lng}
\ag{lng}{access}{l136}{6016,2751}{\#\$lng}
\ag{arr}{access}{l137}{6243,2766}{\#\$condition\\\#\$rbac\\\#\$status\\\#\$path\\-\$prevent\_caching\\\_last\_result\\\#\$cache\\\#\$tree}
\ag{int}{sres}{l138}{7122,2751}{-\$user\_id\\-\$max\_hits\\\#\$offset}
\ag{str}{sres}{l139}{7522,2751}{-\$permission}
\ag{arr}{abs}{l140}{52,3144}{\$fields\\-\$id\_filter\\\#\$object\_types}
\ag{illogger}{sres}{l141}{377,3144}{\#\$logger}
\ag{db}{abs}{l142}{1633,3144}{\#\$db}
\ag{accinfo}{access}{l143}{2001,3144}{\#\$current\_info\\\#\$last\_info}
\ag{access}{abs}{l144}{2503,3144}{-\$ac}
\ag{db}{sres}{l145}{259,3484}{\#\$db}
\ag{usc}{sres}{l146}{2155,3484}{\#\$search\_cache}
\ag{tree}{sres}{l147}{4093,3484}{\#\$tree}
\ag{user}{sres}{l148}{4307,3484}{\#\$user}
\ag{objdef}{access}{l149}{4422,3484}{\#\$objDefinition}
\ag{tree}{oupa}{l150}{4309,3890}{\#\$repository\_tree}
\ag{bool}{sres}{l151}{6437,3144}{\$limit\_reached\\\#\$preventOverwritingMaxHits}
\ag{lng}{access}{l152}{5365,3890}{\#\$language}
\ag{http}{rbsys}{l153}{3952,4300}{\#\$http}
\ag{tree}{access}{l154}{4163,4300}{\#\$tree}
\ag{user}{access}{l155}{4291,4300}{\#\$user}
\ag{user}{rbsys}{l156}{4801,4451}{\#\$user}
\ag{sset}{sres}{l157}{5510,4300}{\#\$search\_settings}
\ag{user}{sres}{l158}{5271,4602}{\#\$user}
\ag{user}{oupa}{l159}{5655,4602}{-\$user}
\ag{qp}{sres}{l160}{6461,4602}{\#\$query\_parser}
\bg{\draw[agg] (rbsys.east) .. controls +(500,0) and +(-400,0) .. (access.west);} \node[lbl] (l161) at (4163,4602) {\#\$rbacsystem};
\ag{access}{sres}{l162}{4333,4900}{\#\$ilAccess}
\bg{\draw[agg] (oupa.west) .. controls +(-400,0) and +(400,0) .. (access.east);} \node[lbl] (l163) at (5664,4900) {\#\$ilOrgUnitPositionAccess};
\bg{\draw[agg] (access.south east) .. controls +(600,100) and +(0,-200) .. (oupa.north);} \node[lbl] (l164) at (5789,4900) {-\$access};
\bg{\draw[agg] (sres.west) .. controls +(-800,100) and +(0,800) .. (usc.south);} \node[lbl] (l165) at (3069,5376) {\#\$search\_result};
\ag{db}{accinfo}{l166}{1680,4300}{-\$ac}
\agn{arr}{color}
\agn{arr}{illogger}
\end{tikzpicture}
\end{document}
